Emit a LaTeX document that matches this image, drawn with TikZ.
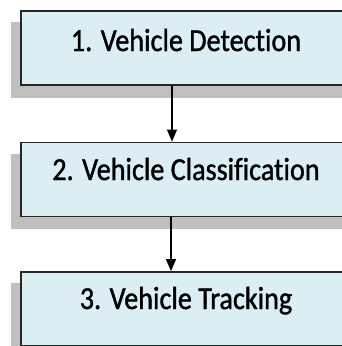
\documentclass[tikz,border=0pt]{standalone}
\usepackage{fontspec}
\setmainfont{Carlito}[RawFeature=-liga, FakeStretch=0.88, FakeBold=1.2]
\usetikzlibrary{arrows.meta,backgrounds}
\definecolor{boxfill}{HTML}{DAEEF3}
\definecolor{boxline}{HTML}{262626}
\definecolor{shadowgray}{HTML}{BFBFBF}
\tikzset{
  stagebox/.style={draw=boxline, line width=1.8pt, fill=boxfill,
    minimum width=330pt, minimum height=74pt, inner sep=0pt},
  stagetext/.style={anchor=base, inner sep=0pt, text=black,
    font=\fontsize{32pt}{36pt}\selectfont},
  flow/.style={draw=black, line width=1.3pt,
    -{Triangle[width=10pt,length=12pt]}},
}
\newcommand{\boxshadow}[1]{%
  \fill[shadowgray] ([shift={(-9pt,-12pt)}]#1.north west)
    rectangle ([shift={(-9pt,-12pt)}]#1.south east);}
\begin{document}
\begin{tikzpicture}[x=1pt, y=-1pt]
  \useasboundingbox (0,0) rectangle (342,346);
  \clip (0,0) rectangle (342,346);

  % stage boxes (they run past the right edge)
  \node[stagebox] (b1) at (186,48) {};
  \node[stagebox] (b2) at (186,179.5) {};
  \node[stagebox] (b3) at (186,309) {};

  % drop shadows, offset down-left, behind the boxes
  \begin{scope}[on background layer]
    \fill[white] (0,0) rectangle (342,346);
    \boxshadow{b1}
    \boxshadow{b2}
    \boxshadow{b3}
  \end{scope}

  % labels
  \node[stagetext] (t1) at (186,51) {1. Vehicle Detection};
  \node[stagetext] (t2) at (186,180) {2. Vehicle Classification};
  \node[stagetext] (t3) at (186,309) {3. Vehicle Tracking};

  % connectors
  \coordinate (a1) at (172,85);
  \coordinate (a2) at (171,217);
  \draw[flow] (b1.south -| a1) -- (b2.north -| a1);
  \draw[flow] (b2.south -| a2) -- (b3.north -| a2);
\end{tikzpicture}
\end{document}
